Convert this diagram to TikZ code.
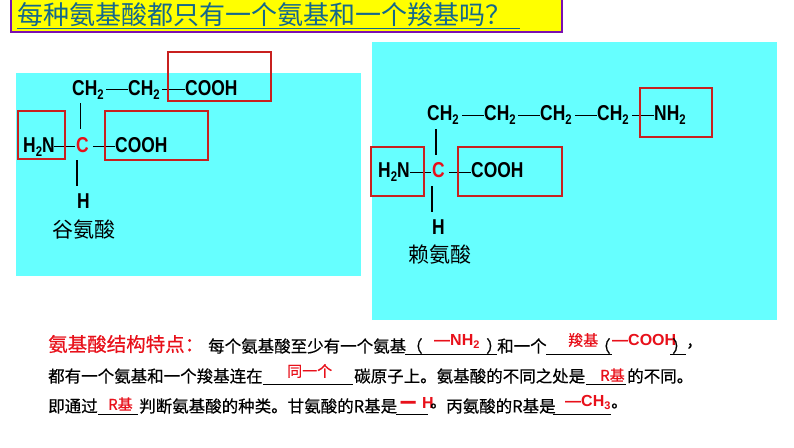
\documentclass[tikz,border=0pt]{standalone}
\usepackage{fontspec}
\setmainfont{Liberation Sans}
\newfontfamily\cjk{Noto Sans CJK SC}
\newfontfamily\cjkm[FakeBold=0.4]{Noto Sans CJK SC}
\newfontfamily\chem[FakeStretch=0.81]{Liberation Sans}
\newcommand{\chsub}[1]{\raisebox{-4pt}{\fontsize{14}{14}\selectfont #1}}
\newcommand{\ansub}[1]{\raisebox{-3pt}{\fontsize{11}{11}\selectfont #1}}
\definecolor{cyanbg}{HTML}{66FFFF}
\definecolor{redbox}{HTML}{C8201F}
\definecolor{redtxt}{HTML}{E8101A}
\definecolor{titleblue}{HTML}{14688C}
\definecolor{purpleb}{HTML}{7A10B0}
\definecolor{ttlyellow}{HTML}{FFFF00}
\tikzset{
 x=1pt,y=-1pt,
 panel/.style={fill=cyanbg,draw=none},
 hibox/.style={draw=redbox,line width=2.4pt},
 chemt/.style={inner sep=0pt,anchor=base west,font=\chem\bfseries\fontsize{21.5}{21.5}\selectfont,text=black},
 bond/.style={draw=black,line width=1pt},
 vbond/.style={draw=black,line width=1.5pt},
 captext/.style={inner sep=0pt,anchor=west,font=\cjk\fontsize{21}{21}\selectfont,text=black},
 body/.style={inner sep=0pt,anchor=west,font=\cjkm\fontsize{16.5}{16.5}\selectfont,text=black},
 ans/.style={inner sep=0pt,anchor=west,font=\cjkm\fontsize{15}{15}\selectfont,text=redtxt},
 anschem/.style={inner sep=0pt,anchor=west,font=\bfseries\fontsize{16}{16}\selectfont,text=redtxt},
 uline/.style={draw=black,line width=0.8pt},
}
\begin{document}
\begin{tikzpicture}
\useasboundingbox (0,0) rectangle (794,447);
\fill[white] (0,0) rectangle (794,447);
% title
\fill[ttlyellow] (11,-1) rectangle (562,32);
\draw[purpleb,line width=2.2pt] (11,-1) -- (11,32) -- (562,32) -- (562,-1);
\node[inner sep=0pt,anchor=west,font=\cjk\fontsize{26}{26}\selectfont,text=titleblue] (title) at (17,15) {每种氨基酸都只有一个氨基和一个羧基吗？};
\draw[titleblue,line width=1pt] (17,28) -- (520,28);
% left panel
\fill[panel] (16,73) rectangle (361,276);
\node[chemt] (la) at (72,95) {CH\chsub{2}};
\node[chemt] (lb) at (128,95) {CH\chsub{2}};
\node[chemt] (lc) at (185,95) {COOH};
\node[chemt] (ln) at (23,152) {H\chsub{2}N};
\node[chemt,text=redtxt] (lC) at (76,152) {C};
\node[chemt] (ld) at (115,152) {COOH};
\node[chemt] (lh) at (77,208) {H};
\node[captext] (lcap) at (52,230) {谷氨酸};
\coordinate (p1) at (106,89); \coordinate (p2) at (128,89);
\draw[bond] (p1) -- (p2);
\coordinate (p3) at (162,89); \coordinate (p4) at (185,89);
\draw[bond] (p3) -- (p4);
\coordinate (p5) at (80.5,103); \coordinate (p6) at (80.5,129);
\draw[vbond] (p5) -- (p6);
\coordinate (p7) at (54,146); \coordinate (p8) at (75,146);
\draw[bond] (p7) -- (p8);
\coordinate (p9) at (93,146); \coordinate (p10) at (115,146);
\draw[bond] (p9) -- (p10);
\coordinate (p11) at (77,160); \coordinate (p12) at (77,186);
\draw[vbond] (p11) -- (p12);
\draw[hibox] (168,52) rectangle (271,101);
\draw[hibox] (105,111) rectangle (208,160);
\draw[hibox] (18,111) rectangle (65,159);
% right panel
\fill[panel] (372,42) rectangle (777,320);
\node[chemt] (ra) at (427,120) {CH\chsub{2}};
\node[chemt] (rb) at (484,120) {CH\chsub{2}};
\node[chemt] (rc) at (540,120) {CH\chsub{2}};
\node[chemt] (rd) at (597,120) {CH\chsub{2}};
\node[chemt] (re) at (654,120) {NH\chsub{2}};
\node[chemt] (rn) at (378,177) {H\chsub{2}N};
\node[chemt,text=redtxt] (rC) at (432,177) {C};
\node[chemt] (rf) at (471,177) {COOH};
\node[chemt] (rh) at (432,234) {H};
\node[captext] (rcap) at (408,255) {赖氨酸};
\coordinate (q1) at (462,115); \coordinate (q2) at (484,115);
\draw[bond] (q1) -- (q2);
\coordinate (q3) at (518,115); \coordinate (q4) at (540,115);
\draw[bond] (q3) -- (q4);
\coordinate (q5) at (575,115); \coordinate (q6) at (597,115);
\draw[bond] (q5) -- (q6);
\coordinate (q7) at (632,115); \coordinate (q8) at (654,115);
\draw[bond] (q7) -- (q8);
\coordinate (q9) at (436,129); \coordinate (q10) at (436,155);
\draw[vbond] (q9) -- (q10);
\coordinate (q11) at (410,172); \coordinate (q12) at (431,172);
\draw[bond] (q11) -- (q12);
\coordinate (q13) at (449,172); \coordinate (q14) at (471,172);
\draw[bond] (q13) -- (q14);
\coordinate (q15) at (432,186); \coordinate (q16) at (432,212);
\draw[vbond] (q15) -- (q16);
\draw[hibox] (640,88) rectangle (712,137);
\draw[hibox] (371,147) rectangle (424,196);
\draw[hibox] (458,147) rectangle (562,196);
% bottom text, line 1
\node[inner sep=0pt,anchor=west,font=\cjkm\fontsize{19.5}{19.5}\selectfont,text=redtxt] (head) at (48,344) {氨基酸结构特点：};
\node[body] (t1) at (208,346) {每个氨基酸至少有一个氨基};
\draw[uline] (405,354) -- (497,354);
\node[body] (t1a) at (406,346) {（};
\node[anschem] (a1) at (434,341) {—NH\ansub{2}};
\node[body] (t1b) at (486,346) {）};
\node[body] (t1c) at (497,346) {和一个};
\draw[uline] (546,354) -- (612,354);
\node[ans] (a2) at (568,340) {羧基};
\node[body] (t1d) at (594,346) {（};
\node[anschem] (a3) at (612,340) {—COOH};
\draw[uline] (670,354) -- (686,354);
\node[body] (t1e) at (672,346) {）};
\node[body] (t1f) at (686,346) {，};
% line 2
\node[body] (t2) at (48,376) {都有一个氨基和一个羧基连在};
\draw[uline] (263,384) -- (353,384);
\node[ans] (a4) at (287,371) {同一个};
\node[body] (t2a) at (354,376) {碳原子上。氨基酸的不同之处是};
\draw[uline] (586,384) -- (626,384);
\node[ans] (a5) at (600,375) {R基};
\node[body] (t2b) at (627,376) {的不同。};
% line 3
\node[body] (t3) at (48,406) {即通过};
\draw[uline] (98,414) -- (138,414);
\node[ans] (a6) at (108,404) {R基};
\node[body] (t3a) at (139,406) {判断氨基酸的种类。甘氨酸的R基是};
\draw[uline] (396,414) -- (428,414);
\node[anschem] (a7) at (400,403) {{\cjkm 一}\hspace{6pt}H};
\node[body] (t3b) at (430,406) {。};
\node[body] (t3c) at (446,406) {丙氨酸的R基是};
\draw[uline] (553,414) -- (611,414);
\node[anschem] (a8) at (565,402) {—CH\ansub{3}};
\node[body] (t3d) at (611,406) {。};
\end{tikzpicture}
\end{document}
